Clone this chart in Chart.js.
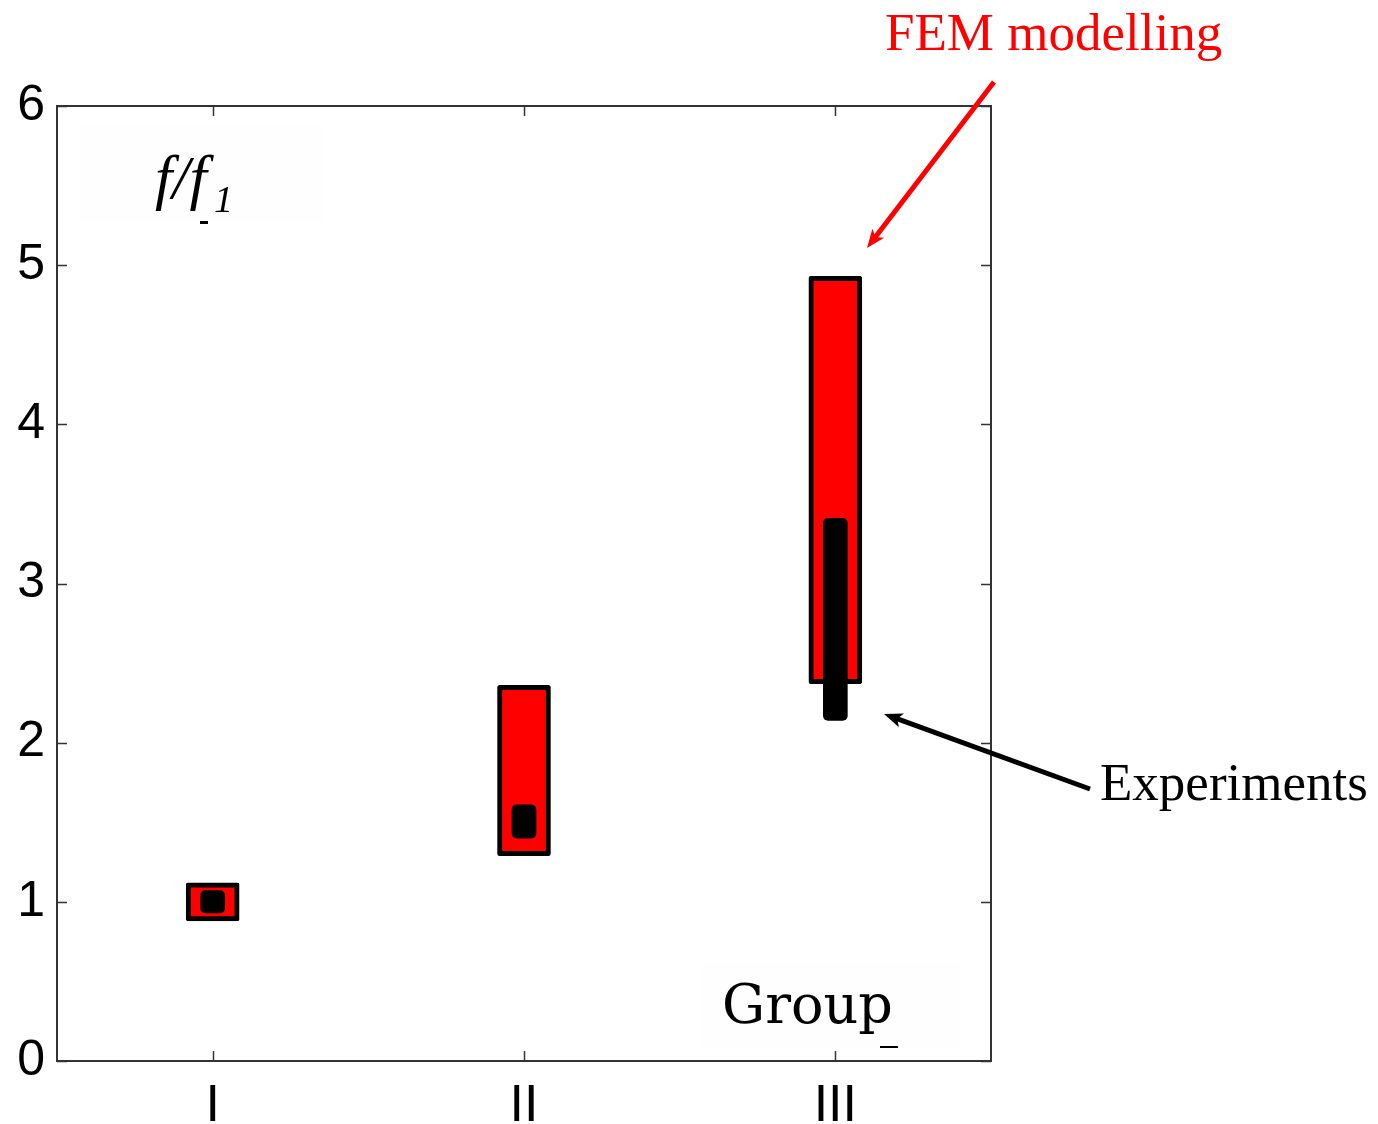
<!DOCTYPE html>
<html>
<head>
<meta charset="utf-8">
<script src="https://cdn.jsdelivr.net/npm/chart.js@4.4.1/dist/chart.umd.min.js"></script>
<style>
  html, body { margin: 0; padding: 0; background: #fff; }
  canvas { display: block; }
</style>
</head>
<body>
<canvas id="grafico" width="1378" height="1124"></canvas>
<script>
// grupos no eixo x
var grupos = ['I', 'II', 'III'];

// faixa f/f1 do modelo FEM (min, max) por grupo
var femMin = [0.88, 1.29, 2.37];
var femMax = [1.12, 2.36, 4.93];

// faixa f/f1 medida nos experimentos
var expMin = [0.93, 1.40, 2.14];
var expMax = [1.07, 1.61, 3.41];

var ticksY = [0, 1, 2, 3, 4, 5, 6];

function faixas(mins, maxs) {
    var lista = [];
    for (var i = 0; i < mins.length; i++) {
        lista.push([mins[i], maxs[i]]);
    }
    return lista;
}

function seta(ctx, x1, y1, x2, y2, cor) {
    var ang = Math.atan2(y2 - y1, x2 - x1);
    var tam = 20, abre = 0.38;
    ctx.strokeStyle = cor;
    ctx.fillStyle = cor;
    ctx.lineWidth = 5;
    ctx.beginPath();
    ctx.moveTo(x1, y1);
    ctx.lineTo(x2 - Math.cos(ang) * 10, y2 - Math.sin(ang) * 10);
    ctx.stroke();
    ctx.beginPath();
    ctx.moveTo(x2, y2);
    ctx.lineTo(x2 - tam * Math.cos(ang - abre), y2 - tam * Math.sin(ang - abre));
    ctx.lineTo(x2 - tam * 0.7 * Math.cos(ang), y2 - tam * 0.7 * Math.sin(ang));
    ctx.lineTo(x2 - tam * Math.cos(ang + abre), y2 - tam * Math.sin(ang + abre));
    ctx.closePath();
    ctx.fill();
}

// caixa em volta do gráfico, ticks para dentro e os textos
var molduraPlugin = {
    id: 'moldura',
    beforeDatasetsDraw: function(chart) {
        var ctx = chart.ctx;
        ctx.save();
        ctx.fillStyle = '#fefefe';
        ctx.fillRect(80, 126, 245, 96);
        ctx.fillRect(702, 962, 258, 86);
        ctx.restore();
    },
    afterDraw: function(chart) {
        var ctx = chart.ctx;
        var a = chart.chartArea;
        var x = chart.scales.x;
        var y = chart.scales.y;
        ctx.save();

        ctx.strokeStyle = '#333';
        ctx.lineWidth = 2;
        ctx.strokeRect(a.left, a.top, a.right - a.left, a.bottom - a.top);

        ctx.lineWidth = 1.5;
        ctx.beginPath();
        for (var i = 0; i < y.ticks.length; i++) {
            var py = Math.round(y.getPixelForTick(i)) + 0.5;
            ctx.moveTo(a.left, py); ctx.lineTo(a.left + 10, py);
            ctx.moveTo(a.right, py); ctx.lineTo(a.right - 10, py);
        }
        for (var j = 0; j < x.ticks.length; j++) {
            var px = Math.round(x.getPixelForTick(j)) + 0.5;
            ctx.moveTo(px, a.bottom); ctx.lineTo(px, a.bottom - 10);
            ctx.moveTo(px, a.top); ctx.lineTo(px, a.top + 10);
        }
        ctx.stroke();

        // restos de traço perto dos rótulos
        ctx.fillStyle = '#000';
        ctx.fillRect(200, 221, 8, 3);
        ctx.fillRect(880, 1046, 18, 2);

        // rótulo do eixo y
        ctx.textBaseline = 'alphabetic';
        ctx.font = 'italic 62px "Liberation Serif"';
        ctx.fillText('f/f', 155, 198);
        ctx.font = 'italic 38px "Liberation Serif"';
        ctx.fillText('1', 214, 212);

        ctx.font = '54px "DejaVu Serif"';
        ctx.fillText('Group', 722, 1023);

        ctx.fillStyle = '#ff0000';
        ctx.font = '53px "Liberation Serif"';
        ctx.fillText('FEM modelling', 885, 50);
        seta(ctx, 994, 82, 867, 248, '#ff0000');

        ctx.fillStyle = '#000';
        ctx.font = '53px "Liberation Serif"';
        ctx.fillText('Experiments', 1100, 800);
        seta(ctx, 1090, 789, 884, 714, '#000');

        ctx.restore();
    }
};

new Chart(document.getElementById('grafico'), {
    type: 'bar',
    data: {
        labels: grupos,
        datasets: [
            {
                label: 'Experiments',
                data: faixas(expMin, expMax),
                backgroundColor: '#000',
                borderWidth: 0,
                borderRadius: 5,
                borderSkipped: false,
                barThickness: 24,
                grouped: false,
                order: 0
            },
            {
                label: 'FEM modelling',
                data: faixas(femMin, femMax),
                backgroundColor: '#ff0000',
                borderColor: '#000',
                borderWidth: 5,
                borderRadius: 2,
                borderSkipped: false,
                barThickness: 53,
                grouped: false,
                order: 1
            }
        ]
    },
    options: {
        responsive: false,
        animation: false,
        layout: { padding: { top: 106, right: 387, left: 0, bottom: 0 } },
        plugins: {
            legend: { display: false },
            tooltip: { enabled: false }
        },
        scales: {
            x: {
                grid: { display: false, drawTicks: false },
                border: { display: false },
                ticks: {
                    color: '#000',
                    padding: 14,
                    font: { family: '"Liberation Sans"', size: 52 }
                },
                afterFit: function(s) { s.height = 63; }
            },
            y: {
                min: 0,
                max: 6,
                grid: { display: false, drawTicks: false },
                border: { display: false },
                afterBuildTicks: function(s) {
                    s.ticks = ticksY.map(function(v) { return { value: v }; });
                },
                ticks: {
                    color: '#000',
                    padding: 12,
                    font: { family: '"Liberation Sans"', size: 50 }
                },
                afterFit: function(s) { s.width = 57; }
            }
        }
    },
    plugins: [molduraPlugin]
});
</script>
</body>
</html>
